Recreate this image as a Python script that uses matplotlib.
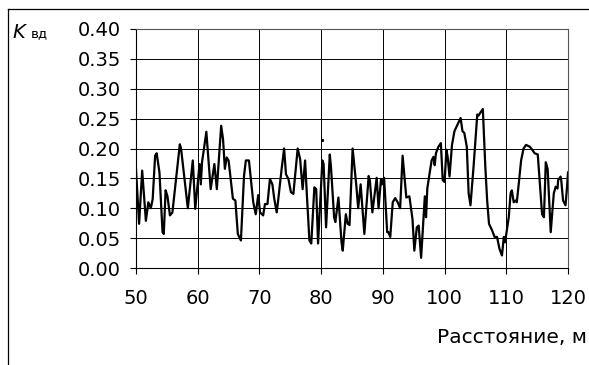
#!/usr/bin/env python3
"""Coefficient K_vd along the distance 50..120 m, drawn as a thin black trace
on an Excel-style grid."""

import matplotlib
matplotlib.use("Agg")
import matplotlib.pyplot as plt
from matplotlib.lines import Line2D

# Distance along the line, m
distance = [
    50.0, 50.5, 51.0, 51.6, 52.0, 52.4, 52.7, 53.1, 53.35, 53.8,
    54.3, 54.5, 54.8, 55.1, 55.5, 55.9, 56.5, 57.1, 57.3, 58.4,
    59.2, 59.6, 60.3, 60.5, 60.7, 61.4, 62.1, 62.7, 63.1, 63.8,
    64.1, 64.4, 64.7, 65.0, 65.7, 66.1, 66.5, 67.0, 67.5, 67.8,
    68.3, 69.0, 69.4, 69.8, 70.1, 70.6, 70.9, 71.3, 71.7, 72.1,
    72.4, 72.8, 73.0, 73.6, 74.0, 74.3, 74.7, 75.1, 75.5, 76.2,
    76.6, 77.0, 77.4, 77.7, 78.1, 78.4, 78.9, 79.2, 79.5, 80.2,
    80.4, 80.8, 81.4, 81.6, 82.1, 82.3, 82.8, 83.3, 83.5, 84.0,
    84.3, 84.6, 85.1, 85.7, 86.0, 86.4, 87.0, 87.7, 87.9, 88.3,
    89.0, 89.3, 89.7, 89.85, 90.2, 90.7, 90.9, 91.2, 91.6, 92.0,
    92.4, 92.8, 93.2, 93.8, 94.3, 94.8, 95.1, 95.5, 95.8, 96.2,
    96.8, 97.0, 97.2, 97.9, 98.2, 98.4, 98.6, 99.0, 99.4, 99.7,
    100.0, 100.3, 100.5, 100.8, 101.2, 101.6, 102.1, 102.6, 102.9, 103.2,
    103.6, 103.9, 104.2, 104.7, 105.3, 105.5, 105.8, 106.2, 106.6, 106.9,
    107.2, 107.7, 108.1, 108.5, 108.9, 109.3, 109.6, 109.8, 110.4, 110.7,
    110.9, 111.2, 111.5, 111.7, 112.0, 112.4, 112.8, 113.2, 113.8, 114.2,
    114.6, 115.1, 115.4, 115.8, 116.1, 116.4, 116.7, 117.2, 117.7, 118.0,
    118.3, 118.4, 118.8, 118.9, 119.2, 119.6, 119.85, 120.0,
]

# K_vd values at each distance
k_vd = [
    0.165, 0.074, 0.163, 0.079, 0.110, 0.100, 0.115, 0.188, 0.192, 0.160,
    0.060, 0.057, 0.130, 0.120, 0.088, 0.093, 0.150, 0.207, 0.200, 0.100,
    0.180, 0.099, 0.174, 0.140, 0.177, 0.228, 0.132, 0.174, 0.132, 0.238,
    0.216, 0.166, 0.185, 0.180, 0.116, 0.113, 0.057, 0.046, 0.154, 0.180,
    0.180, 0.110, 0.090, 0.122, 0.093, 0.088, 0.107, 0.107, 0.149, 0.140,
    0.116, 0.093, 0.110, 0.166, 0.200, 0.157, 0.149, 0.127, 0.124, 0.200,
    0.182, 0.132, 0.180, 0.120, 0.046, 0.041, 0.135, 0.132, 0.041, 0.180,
    0.174, 0.068, 0.190, 0.168, 0.085, 0.077, 0.118, 0.043, 0.029, 0.090,
    0.074, 0.072, 0.200, 0.138, 0.100, 0.140, 0.057, 0.154, 0.146, 0.093,
    0.151, 0.100, 0.149, 0.140, 0.151, 0.060, 0.060, 0.052, 0.110, 0.117,
    0.110, 0.100, 0.188, 0.118, 0.120, 0.082, 0.029, 0.068, 0.071, 0.017,
    0.120, 0.085, 0.133, 0.180, 0.186, 0.172, 0.192, 0.203, 0.209, 0.147,
    0.144, 0.198, 0.186, 0.153, 0.206, 0.229, 0.240, 0.251, 0.229, 0.226,
    0.203, 0.125, 0.105, 0.170, 0.257, 0.255, 0.260, 0.266, 0.170, 0.113,
    0.074, 0.063, 0.052, 0.052, 0.032, 0.021, 0.052, 0.043, 0.085, 0.125,
    0.130, 0.110, 0.113, 0.110, 0.139, 0.180, 0.200, 0.206, 0.203, 0.198,
    0.192, 0.190, 0.147, 0.090, 0.085, 0.177, 0.166, 0.060, 0.125, 0.136,
    0.133, 0.147, 0.153, 0.147, 0.113, 0.105, 0.136, 0.160,
]

# lone point sitting above the trace near 80 m
stray_x = [80.1]
stray_y = [0.214]

x_ticks = [50, 60, 70, 80, 90, 100, 110, 120]
y_ticks = [0.00, 0.05, 0.10, 0.15, 0.20, 0.25, 0.30, 0.35, 0.40]

W, H = 589, 365


def main():
    plt.rcParams["font.family"] = ["DejaVu Sans"]
    fig = plt.figure(figsize=(W / 100, H / 100), dpi=100)
    ax = fig.add_axes([136 / W, 1 - 268 / H, (568 - 136) / W, (268 - 29) / H])

    ax.plot(distance, k_vd, color="black", lw=1.6, solid_joinstyle="round")
    ax.plot(stray_x, stray_y, "s", color="black", ms=1.2)

    ax.set_xlim(50, 120)
    ax.set_ylim(0, 0.40)
    ax.set_xticks(x_ticks)
    ax.set_yticks(y_ticks)
    ax.set_yticklabels([f"{v:.2f}" for v in y_ticks])
    ax.tick_params(direction="out", length=4, width=0.8, labelsize=14, color="black")
    ax.tick_params(axis="x", pad=11)
    ax.tick_params(axis="y", pad=7)
    ax.grid(True, color="black", lw=0.7)
    for side, sp in ax.spines.items():
        sp.set_color("black" if side in ("left", "bottom") else "#555555")
        sp.set_linewidth(0.8)

    # axis captions placed in figure pixels, Excel-style
    fig.text(12 / W, 1 - 38 / H, "K", style="italic", fontsize=14,
             ha="left", va="baseline")
    fig.text(31 / W, 1 - 37 / H, "вд", fontsize=9.5, ha="left", va="baseline")
    fig.text(587 / W, 1 - 343 / H, "Расстояние, м", fontsize=14.5,
             ha="right", va="baseline")

    # chart-area border, clipped on the right and bottom
    fig.add_artist(Line2D([8 / W, 8 / W], [0, 1 - 9 / H], color="black", lw=0.9))
    fig.add_artist(Line2D([8 / W, 1], [1 - 9 / H, 1 - 9 / H], color="black", lw=0.9))

    fig.savefig("out.png", dpi=100)


if __name__ == "__main__":
    main()
